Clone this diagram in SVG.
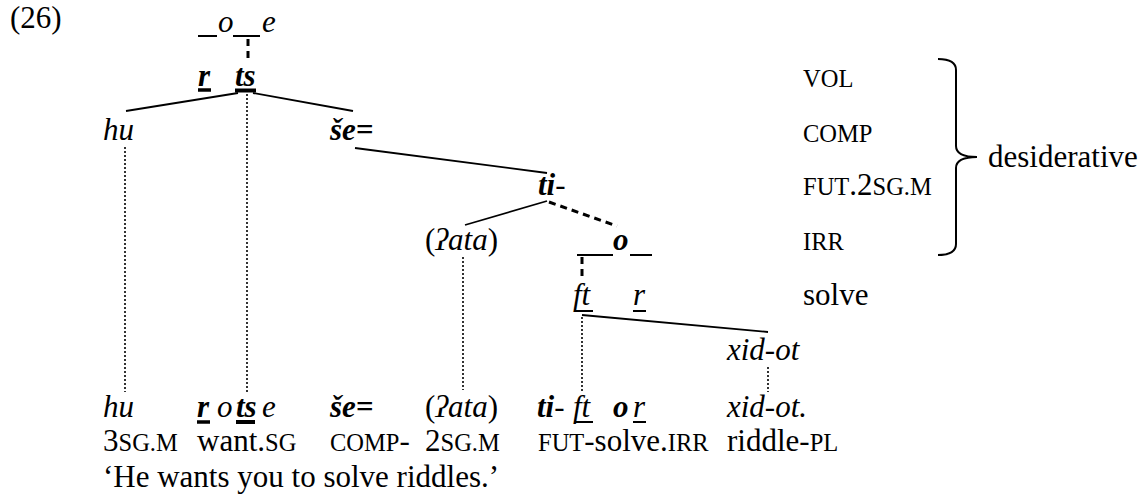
<svg xmlns="http://www.w3.org/2000/svg" width="1146" height="498" viewBox="0 0 1146 498">
<style>
text{font-family:"Liberation Serif","Times New Roman",serif;font-size:31px;fill:#000}
.i{font-style:italic}
.b{font-weight:bold}
.sc{font-size:24.5px}
.solid{stroke:#000;stroke-width:1.8;fill:none}
.dot{stroke:#000;stroke-width:1.6;stroke-dasharray:2 2;fill:none}
.dash{stroke:#000;stroke-width:3;stroke-dasharray:7 5;fill:none}
.ul{stroke:#000;stroke-width:3.5}
.ulthin{stroke:#000;stroke-width:2}
</style>
<rect width="1146" height="498" fill="#fff"/>
<text x="10" y="28">(26)</text>

<g id="connectors">
  <line class="dash" x1="248" y1="39" x2="248" y2="59"/>
  <line class="solid" x1="238" y1="93" x2="126" y2="111"/>
  <line class="solid" x1="253" y1="93" x2="353" y2="111"/>
  <line class="dot" x1="125" y1="147" x2="125" y2="392"/>
  <line class="dot" x1="247" y1="94" x2="247" y2="392"/>
  <line class="solid" x1="355" y1="148" x2="547" y2="173"/>
  <line class="solid" x1="547" y1="201" x2="465" y2="225"/>
  <line class="dash" x1="549" y1="202" x2="617" y2="226"/>
  <line class="dot" x1="463" y1="257" x2="463" y2="390"/>
  <line class="dash" x1="582" y1="257" x2="582" y2="277"/>
  <line class="solid" x1="582" y1="315" x2="768" y2="332"/>
  <line class="dot" x1="582" y1="317" x2="582" y2="392"/>
  <line class="dot" x1="768" y1="367" x2="768" y2="392"/>
</g>

<g id="node-oe">
  <line class="ulthin" x1="198" y1="36" x2="217" y2="36"/>
  <text x="218" y="32" class="i">o</text>
  <line class="ulthin" x1="233" y1="36" x2="260" y2="36"/>
  <text x="262" y="32" class="i">e</text>
</g>
<g id="node-rts">
  <text x="198" y="86" class="i b">r</text>
  <line class="ul" x1="198" y1="90" x2="211" y2="90"/>
  <text x="235" y="86" class="i b">ts</text>
  <line class="ul" x1="235" y1="90.5" x2="256" y2="90.5" style="stroke-width:4"/>
</g>
<g id="node-hu"><text x="103" y="140" class="i">hu</text></g>
<g id="node-se"><text x="330" y="140" class="i b">še=</text></g>
<g id="node-ti"><text x="538" y="195" class="i"><tspan class="b">ti</tspan>-</text></g>
<g id="node-ata"><text x="425" y="250">(<tspan class="i">ʔata</tspan>)</text></g>
<g id="node-o">
  <line class="ulthin" x1="577" y1="255" x2="613" y2="255"/>
  <text x="613" y="250" class="i b">o</text>
  <line class="ulthin" x1="630" y1="255" x2="652" y2="255"/>
</g>
<g id="node-ftr">
  <text x="573" y="305" class="i">ft</text>
  <line class="ulthin" x1="575" y1="311" x2="593" y2="311"/>
  <text x="633" y="305" class="i">r</text>
  <line class="ulthin" x1="633" y1="311" x2="646" y2="311"/>
</g>
<g id="node-xidot"><text x="727" y="360" class="i">xid-ot</text></g>

<g id="labels">
  <text x="803" y="87" class="sc">VOL</text>
  <text x="803" y="142" class="sc">COMP</text>
  <text x="803" y="195"><tspan class="sc">FUT</tspan>.2<tspan class="sc">SG.M</tspan></text>
  <text x="803" y="250" class="sc">IRR</text>
  <text x="803" y="305">solve</text>
</g>
<g id="bracket">
  <path class="solid" style="stroke-width:2" d="M938 59 Q956 59 956 70 L956 146 Q956 157 977 157 Q956 157 956 168 L956 244 Q956 255 938 255"/>
  <text x="988" y="167">desiderative</text>
</g>

<g id="gloss-words">
  <text x="103" y="417" class="i">hu</text>
  <text x="197" y="417" class="i b">r</text>
  <line class="ul" x1="197" y1="422" x2="210" y2="422"/>
  <text x="217" y="417" class="i">o</text>
  <text x="236" y="417" class="i b">ts</text>
  <line class="ul" x1="236" y1="422" x2="255" y2="422" style="stroke-width:4"/>
  <text x="262" y="417" class="i">e</text>
  <text x="330" y="417" class="i b">še=</text>
  <text x="425" y="417">(<tspan class="i">ʔata</tspan>)</text>
  <text x="537" y="417" class="i"><tspan class="b">ti</tspan>-</text>
  <text x="573" y="417" class="i">ft</text>
  <line class="ulthin" x1="575" y1="422" x2="593" y2="422"/>
  <text x="613" y="417" class="i b">o</text>
  <text x="633" y="417" class="i">r</text>
  <line class="ulthin" x1="633" y1="422" x2="646" y2="422"/>
  <text x="727" y="417" class="i">xid-ot.</text>
</g>
<g id="gloss-line">
  <text x="103" y="451">3<tspan class="sc">SG.M</tspan></text>
  <text x="197" y="451">want.<tspan class="sc">SG</tspan></text>
  <text x="330" y="451"><tspan class="sc">COMP</tspan>-</text>
  <text x="425" y="451">2<tspan class="sc">SG.M</tspan></text>
  <text x="538" y="451"><tspan class="sc">FUT</tspan>-solve.<tspan class="sc">IRR</tspan></text>
  <text x="727" y="451">riddle-<tspan class="sc">PL</tspan></text>
</g>
<g id="translation">
  <text x="103" y="487">‘He wants you to solve riddles.’</text>
</g>
</svg>
